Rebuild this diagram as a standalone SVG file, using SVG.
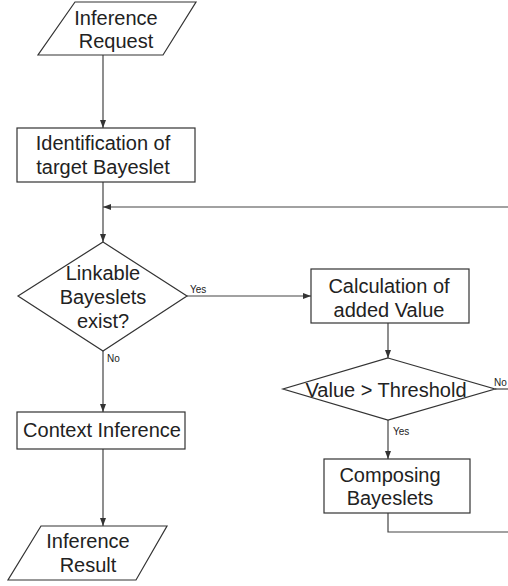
<svg xmlns="http://www.w3.org/2000/svg" width="508" height="586" viewBox="0 0 508 586">
<style>
.s{fill:#fff;stroke:#333;stroke-width:1.2}
.t{font-family:"Liberation Sans",Arial,sans-serif;font-size:20px;fill:#222;text-anchor:middle}
.l{font-family:"Liberation Sans",Arial,sans-serif;font-size:10px;fill:#222}
.c{fill:none;stroke:#444;stroke-width:1.2}
</style>
<defs>
<marker id="a" viewBox="0 0 8 6" refX="8" refY="3" markerWidth="8" markerHeight="6" markerUnits="userSpaceOnUse" orient="auto">
<path d="M0,0 L8,3 L0,6 Z" fill="#333"/>
</marker>
</defs>
<rect width="508" height="586" fill="#fff"/>
<g id="connectors">
<line class="c" x1="103" y1="55" x2="103" y2="128" marker-end="url(#a)"/>
<line class="c" x1="103" y1="182" x2="103" y2="242" marker-end="url(#a)"/>
<line class="c" x1="508" y1="207" x2="103" y2="207" marker-end="url(#a)"/>
<line class="c" x1="187" y1="296" x2="311" y2="296" marker-end="url(#a)"/>
<line class="c" x1="103" y1="351" x2="103" y2="412" marker-end="url(#a)"/>
<line class="c" x1="103" y1="449" x2="103" y2="526" marker-end="url(#a)"/>
<line class="c" x1="388" y1="323" x2="388" y2="358" marker-end="url(#a)"/>
<line class="c" x1="495" y1="389" x2="508" y2="389"/>
<line class="c" x1="388" y1="420" x2="388" y2="459" marker-end="url(#a)"/>
<polyline class="c" points="388,513 388,532 508,532"/>
<text class="l" x="190" y="293">Yes</text>
<text class="l" x="107" y="362">No</text>
<text class="l" x="393" y="435">Yes</text>
<text class="l" x="494" y="386">No</text>
</g>
<g id="inference-request">
<polygon class="s" points="75,2 196,2 163,55 38,55"/>
<text class="t" x="116" y="25">Inference</text>
<text class="t" x="116" y="48">Request</text>
</g>
<g id="identification">
<rect class="s" x="17" y="128" width="178" height="54"/>
<text class="t" x="103" y="150">Identification of</text>
<text class="t" x="103" y="174">target Bayeslet</text>
</g>
<g id="linkable">
<polygon class="s" points="103,242 187,296 103,351 18,296"/>
<text class="t" x="103" y="280">Linkable</text>
<text class="t" x="103" y="304">Bayeslets</text>
<text class="t" x="103" y="328">exist?</text>
</g>
<g id="calculation">
<rect class="s" x="311" y="269" width="158" height="54"/>
<text class="t" x="389" y="293">Calculation of</text>
<text class="t" x="389" y="317">added Value</text>
</g>
<g id="threshold">
<polygon class="s" points="388,358 495,389 388,420 283,389"/>
<text class="t" x="386" y="397">Value &gt; Threshold</text>
</g>
<g id="context-inference">
<rect class="s" x="17" y="412" width="168" height="37"/>
<text class="t" x="102" y="437">Context Inference</text>
</g>
<g id="composing">
<rect class="s" x="324" y="459" width="146" height="54"/>
<text class="t" x="390" y="482">Composing</text>
<text class="t" x="390" y="505">Bayeslets</text>
</g>
<g id="inference-result">
<polygon class="s" points="41,526 167,526 136,580 8,580"/>
<text class="t" x="88" y="548">Inference</text>
<text class="t" x="88" y="572">Result</text>
</g>
</svg>
